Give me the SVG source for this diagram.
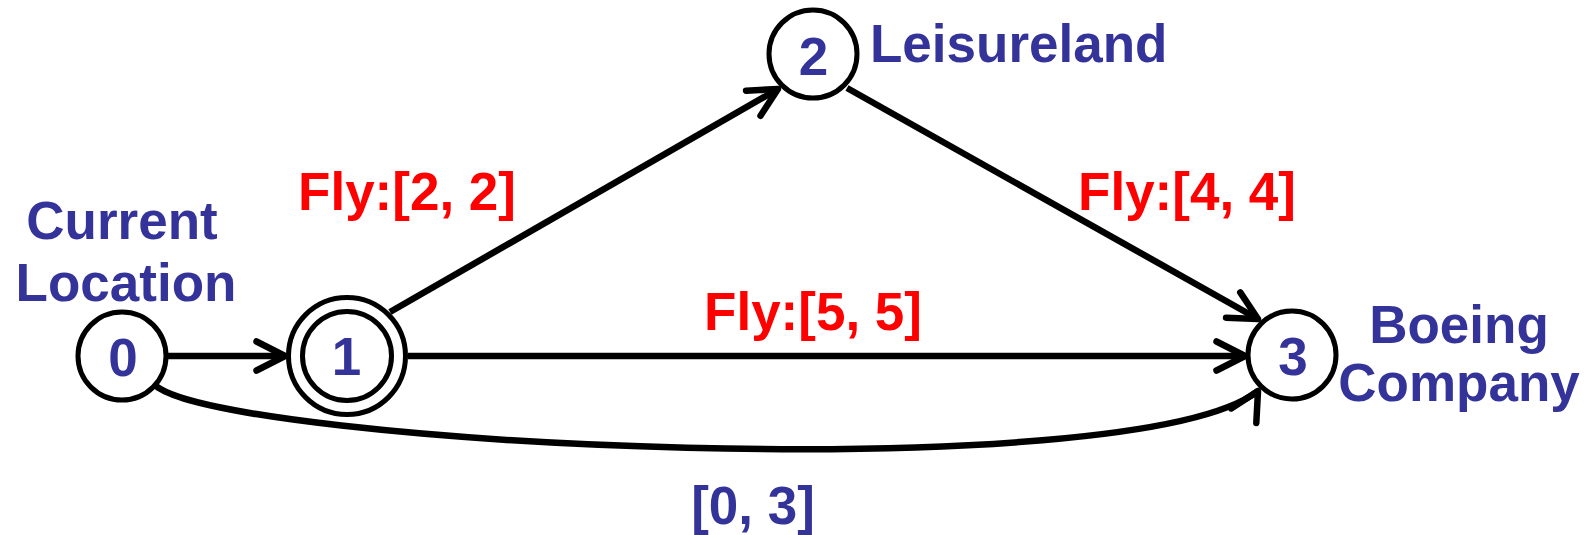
<svg xmlns="http://www.w3.org/2000/svg" xmlns:xlink="http://www.w3.org/1999/xlink" width="1591" height="535" viewBox="0 0 1591 535">
  <style>
    .node { fill: #ffffff; stroke: #000000; stroke-width: 5; }
    .edge { fill: none; stroke: #000000; stroke-width: 6.5; }
    .ah { fill: none; stroke: #000000; stroke-width: 6.5; stroke-linecap: round; stroke-linejoin: round; }
    .num { font-family: "Liberation Sans", Arial, sans-serif; font-weight: bold; font-size: 53px; fill: #333399; text-anchor: middle; }
    .name { font-family: "Liberation Sans", Arial, sans-serif; font-weight: bold; font-size: 53px; fill: #333399; }
    .lbl { font-family: "Liberation Sans", Arial, sans-serif; font-weight: bold; font-size: 53px; fill: #ff0000; text-anchor: middle; }
    .lblb { font-family: "Liberation Sans", Arial, sans-serif; font-weight: bold; font-size: 53px; fill: #333399; text-anchor: middle; }
  </style>
  <defs>
    <marker id="arrow" markerUnits="userSpaceOnUse" orient="auto" refX="0" refY="0" markerWidth="80" markerHeight="80" overflow="visible">
      <path class="ah" d="M-28.5,-14.5 L0,0 L-28.5,14.5"/>
    </marker>
    <path id="ahead" class="ah" d="M-28.5,-14.5 L0,0 L-28.5,14.5"/>
  </defs>
  <rect width="1591" height="535" fill="#ffffff"/>

  <g id="connectors">
    <line class="edge" x1="168" y1="356" x2="285" y2="356" marker-end="url(#arrow)"/>
    <line class="edge" x1="408" y1="356" x2="1245" y2="356" marker-end="url(#arrow)"/>
    <line class="edge" x1="390" y1="312" x2="778" y2="89" marker-end="url(#arrow)"/>
    <line class="edge" x1="847" y1="88" x2="1258" y2="319" marker-end="url(#arrow)"/>
    <path class="edge" d="M156,386 C230,445 1130,490 1258,391"/>
    <use xlink:href="#ahead" href="#ahead" transform="translate(1258,391) rotate(-60)"/>
    <text class="lbl" x="407" y="210">Fly:[2, 2]</text>
    <text class="lbl" x="1187" y="210">Fly:[4, 4]</text>
    <text class="lbl" x="813" y="330">Fly:[5, 5]</text>
    <text class="lblb" x="753" y="524">[0, 3]</text>
  </g>

  <g id="node0">
    <circle class="node" cx="122" cy="356" r="44"/>
    <text class="num" x="123" y="376">0</text>
    <text class="lblb" x="122" y="239">Current</text>
    <text class="lblb" x="126" y="301">Location</text>
  </g>
  <g id="node1">
    <circle class="node" cx="347" cy="356" r="58.5"/>
    <circle class="node" cx="347" cy="356" r="44.5"/>
    <text class="num" x="346.5" y="375">1</text>
  </g>
  <g id="node2">
    <circle class="node" cx="813" cy="54" r="44"/>
    <text class="num" x="813.5" y="75">2</text>
    <text class="name" x="870" y="62">Leisureland</text>
  </g>
  <g id="node3">
    <circle class="node" cx="1292" cy="355" r="44"/>
    <text class="num" x="1293" y="375">3</text>
    <text class="lblb" x="1459" y="343">Boeing</text>
    <text class="lblb" x="1459" y="401">Company</text>
  </g>
</svg>
